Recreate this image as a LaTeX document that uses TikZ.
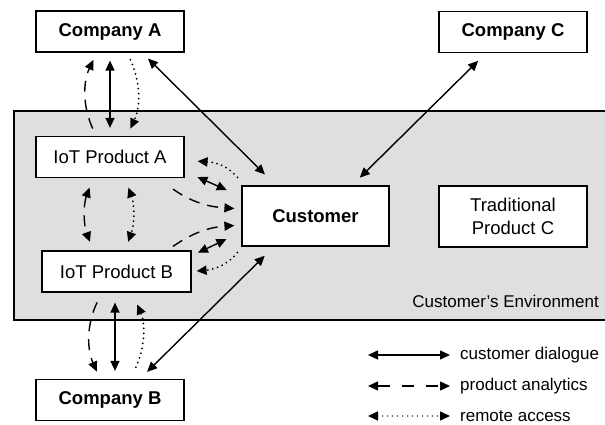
\documentclass[tikz,border=0pt]{standalone}
\usepackage{fontspec}
\setmainfont{Liberation Sans}
\usetikzlibrary{arrows.meta}

\begin{document}
\begin{tikzpicture}[x=1pt, y=1pt,
  >={Triangle[length=10pt,width=9pt]},
  box/.style={draw, fill=white, line width=1.2pt, inner sep=0pt, align=center,
    minimum width=148pt, minimum height=41pt},
  boxfont/.style={font=\fontsize{18.5}{23}\selectfont},
  headfont/.style={font=\bfseries\fontsize{18.5}{23}\selectfont},
  dialogue/.style={<->, line width=1.4pt},
  analytics/.style={line width=1.4pt, dash pattern=on 11pt off 8pt},
  remote/.style={line width=2pt, line cap=round, dash pattern=on 0pt off 5pt},
  legendtext/.style={anchor=west, inner sep=0pt, font=\fontsize{17}{20}\selectfont}]
\useasboundingbox (0,0) rectangle (605,425);

% 1. Customer's environment -- open on the right
\fill[gray!25] (14,105) rectangle (620,314);
\draw[line width=1.3pt] (620,314) -- (14,314) -- (14,105) -- (620,105);
\node[anchor=east, inner sep=0pt, font=\fontsize{17}{20}\selectfont] (envlabel) at (599,124) {Customer's Environment};

% 2. Boxes
\node[box, headfont] (compA) at (110,393.5) {Company A};
\node[box, headfont] (compC) at (513,393) {Company C};
\node[box, headfont] (compB) at (110,25) {Company B};
\node[box, boxfont] (iotA) at (110,268) {IoT Product A};
\node[box, boxfont, minimum width=149pt] (iotB) at (116.5,153.5) {IoT Product B};
\node[box, headfont, minimum width=147pt, minimum height=60pt] (cust) at (315.5,209) {Customer};
\node[box, boxfont, minimum height=61pt] (trad) at (513,208.5) {Traditional\\Product C};

% 3. Company A -- IoT Product A
\draw[dialogue, shorten <=8pt, shorten >=8pt] (compA.south) -- (iotA.north);
\draw[analytics, ->, shorten <=8pt, shorten >=8pt] ([xshift=-14pt]iotA.north) to[bend left=25] ([xshift=-13pt]compA.south);
\draw[remote, ->, shorten <=8pt, shorten >=8pt] ([xshift=17pt]compA.south) to[bend left=25] ([xshift=17pt]iotA.north);

% 4. IoT Product A -- IoT Product B
\draw[analytics, <->, shorten <=10pt, shorten >=9pt] ([xshift=-17pt]iotA.south) to[bend right=20] ([xshift=-23.5pt]iotB.north);
\draw[remote, <->, shorten <=10pt, shorten >=9pt] ([xshift=15pt]iotA.south) to[bend left=20] ([xshift=8.5pt]iotB.north);

% 5. IoT products -- Customer
\draw[remote, ->, shorten >=13pt] ([xshift=-4pt,yshift=8pt]cust.north west) to[out=130,in=-5] ([yshift=-3pt]iotA.east);
\draw[dialogue, shorten <=14pt, shorten >=16pt] ([yshift=-14.4pt]iotA.east) -- ([yshift=19.5pt]cust.west);
\draw[analytics, ->, shorten >=7pt] ([xshift=63pt,yshift=-11pt]iotA.south) to[out=-35,in=176] ([yshift=7pt]cust.west);
\draw[analytics, ->, shorten >=7pt] ([xshift=56.5pt,yshift=4pt]iotB.north) to[out=35,in=184] ([yshift=-9pt]cust.west);
\draw[dialogue, shorten <=7pt, shorten >=16.6pt] ([yshift=15.7pt]iotB.east) -- ([yshift=-16pt]cust.west);
\draw[remote, ->, shorten >=5pt] ([xshift=-4pt,yshift=-6pt]cust.south west) to[out=-130,in=5] (iotB.east);

% 6. IoT Product B -- Company B
\draw[dialogue, shorten <=10pt, shorten >=8pt] ([xshift=-1.5pt]iotB.south) -- ([xshift=5pt]compB.north);
\draw[analytics, ->, shorten <=11pt, shorten >=8pt] ([xshift=-14.5pt]iotB.south) to[bend right=25] ([xshift=-10pt]compB.north);
\draw[remote, ->, shorten <=13pt, shorten >=13pt] ([xshift=20pt]compB.north) to[bend right=25] ([xshift=15.5pt]iotB.south);

% 7. Companies -- Customer
\draw[dialogue, shorten <=8.5pt, shorten >=15.5pt] ([xshift=32pt]compA.south) -- ([xshift=-39.5pt]cust.north);
\draw[dialogue, shorten <=11pt, shorten >=11pt] ([xshift=-27pt]compC.south) -- ([xshift=36.5pt]cust.north);
\draw[dialogue, shorten <=10pt, shorten >=13pt] ([xshift=30pt]compB.north) -- ([xshift=-41.5pt]cust.south);

% 8. Legend
\coordinate (dlgL) at (368,70);  \coordinate (dlgR) at (450,70);
\coordinate (anaL) at (368,39);  \coordinate (anaR) at (450,39);
\coordinate (remL) at (368,9);   \coordinate (remR) at (450,9);
\draw[dialogue] (dlgL) -- (dlgR);
\draw[analytics, <->, dash pattern=on 12pt off 12pt] (anaL) -- (anaR);
\draw[remote, <->, line width=1.4pt] (remL) -- (remR);
\node[legendtext] (dlgtext) at (460,70) {customer dialogue};
\node[legendtext] (anatext) at (460,39) {product analytics};
\node[legendtext] (remtext) at (460,9) {remote access};

\end{tikzpicture}
\end{document}
